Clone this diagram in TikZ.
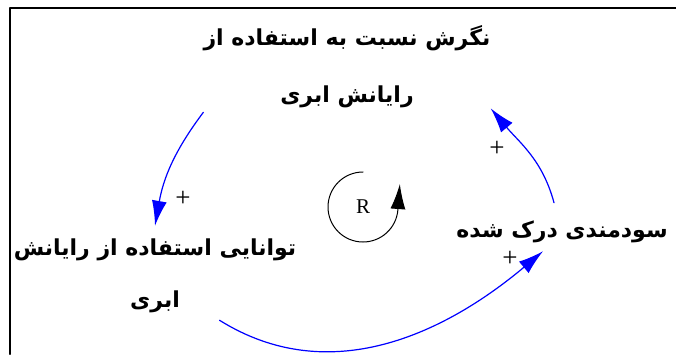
\documentclass[tikz,border=0pt]{standalone}
\usepackage{fontspec}
\setmainfont{Liberation Serif}
\newfontfamily\farsi[Script=Arabic]{DejaVu Sans}
\TeXXeTstate=1
\usetikzlibrary{arrows.meta}
\definecolor{linkblue}{RGB}{0,0,255}

\begin{document}
\begin{tikzpicture}[x=1pt, y=1pt, >=Latex, line cap=round, line join=round,
  var/.style={font=\farsi\bfseries\fontsize{22}{57}\selectfont, align=center, inner sep=0pt},
  link/.style={linkblue, line width=1.2pt, -{Latex[length=25pt,width=15pt]}},
  sign/.style={font=\fontsize{27}{27}\selectfont, inner sep=0pt}]

\useasboundingbox (0,0) rectangle (676,354);
\draw[line width=2.5pt] (10,0) |- (676,346);

% ---------- variables ----------
\node[var] (attitude) at (347,287) {\beginR نگرش نسبت به استفاده از\endR\\\beginR رایانش ابری\endR};
\node[var] (ability) at (155,78) {\beginR توانایی استفاده از رایانش\endR\\[-5pt]\beginR ابری\endR};
\node[var] (useful) at (562,122) {\beginR سودمندی درک شده\endR};

% ---------- loop marker ----------
\node[font=\fontsize{21}{21}\selectfont, inner sep=0pt] (loop) at (363,147) {R};
\draw[line width=1pt, -{Latex[length=25pt,width=15pt]}]
  ([shift={(90:35)}]loop.center) arc[start angle=90, end angle=355, radius=35] -- ++(2,26);

% ---------- links ----------
\draw[link] ([yshift=-4pt]attitude.south west) to[out=-127, in=80] ([yshift=13pt]ability.north);
\node[sign] (plusA) at (183,155) {+};

\draw[link] ([xshift=-8pt,yshift=18pt]useful.north) to[out=105, in=-50] (attitude.south east);
\node[sign] (plusB) at (497,205) {+};

\draw[link] ([yshift=-7pt]ability.-30) to[out=-32, in=-140] ([xshift=-19pt,yshift=-8pt]useful.south);
\node[sign] (plusC) at (510,95) {+};

\end{tikzpicture}
\end{document}
